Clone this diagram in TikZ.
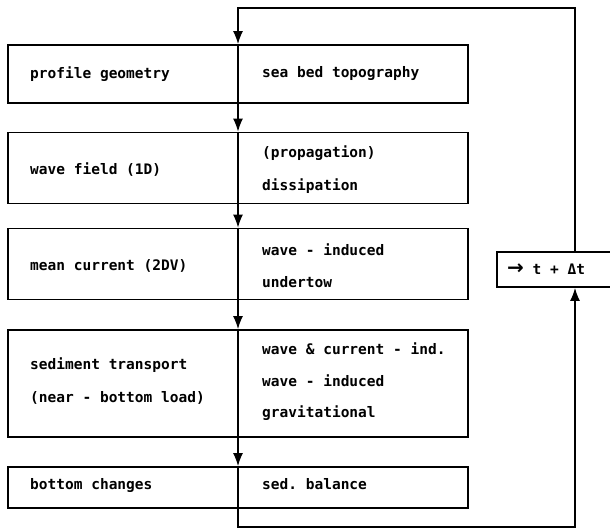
\documentclass[tikz,border=0pt]{standalone}
\usepackage{fontspec}
\setmonofont{DejaVu Sans Mono}
\newfontfamily\arrfont{DejaVu Sans}
\usetikzlibrary{arrows.meta}
\begin{document}
\begin{tikzpicture}[x=1pt,y=-1pt,
  box/.style={draw, line width=1.8pt, minimum width=460pt, inner sep=0pt},
  lbl/.style={anchor=west, inner sep=0pt, font=\ttfamily\bfseries\fontsize{14.5}{16}\selectfont},
  conn/.style={line width=1.3pt},
  arr/.style={line width=1.3pt, -{Latex[length=13pt,width=10pt]}}]
\useasboundingbox (0,0) rectangle (610,530);
\clip (0,0) rectangle (610,530);
% boxes
\node[box, minimum height=58pt] (b1) at (238,74) {};
\node[box, minimum height=71pt] (b2) at (238,168) {};
\node[box, minimum height=71pt] (b3) at (238,264) {};
\node[box, minimum height=107pt] (b4) at (238,383.5) {};
\node[box, minimum height=41pt] (b5) at (238,487.5) {};
\node[box, minimum width=156pt, minimum height=35pt] (tb) at (575,269.5) {};
% texts
\node[lbl] (l1) at (30,74) {profile geometry};
\node[lbl] (r1) at (262,73) {sea bed topography};
\node[lbl] (l2) at (30,170) {wave field (1D)};
\node[lbl] (r2a) at (262,153) {(propagation)};
\node[lbl] (r2b) at (262,186) {dissipation};
\node[lbl] (l3) at (30,266) {mean current (2DV)};
\node[lbl] (r3a) at (262,250) {wave - induced};
\node[lbl] (r3b) at (262,282) {undertow};
\node[lbl] (l4a) at (30,365) {sediment transport};
\node[lbl] (l4b) at (30,398) {(near - bottom load)};
\node[lbl] (r4a) at (262,349) {wave \& current - ind.};
\node[lbl] (r4b) at (262,381) {wave - induced};
\node[lbl] (r4c) at (262,413) {gravitational};
\node[lbl] (l5) at (30,485) {bottom changes};
\node[lbl] (r5) at (262,484) {sed. balance};
\node[lbl] (tt) at (507,269) {{\arrfont\bfseries\fontsize{20}{20}\selectfont →} t + Δt};
% loop corners
\coordinate (c1) at (238,8);
\coordinate (c2) at (575,8);
\coordinate (c3) at (238,527);
\coordinate (c4) at (575,527);
% connectors
\draw[arr] (tb.north) -- (c2) -- (c1) -- (b1.north);
\draw[conn] (b1.north) -- (b1.south);
\draw[arr] (b1.south) -- (b2.north);
\draw[conn] (b2.north) -- (b2.south);
\draw[arr] (b2.south) -- (b3.north);
\draw[conn] (b3.north) -- (b3.south);
\draw[arr] (b3.south) -- (b4.north);
\draw[conn] (b4.north) -- (b4.south);
\draw[arr] (b4.south) -- (b5.north);
\draw[conn] (b5.north) -- (b5.south);
\draw[arr] (b5.south) -- (c3) -- (c4) -- (tb.south);
\end{tikzpicture}
\end{document}
